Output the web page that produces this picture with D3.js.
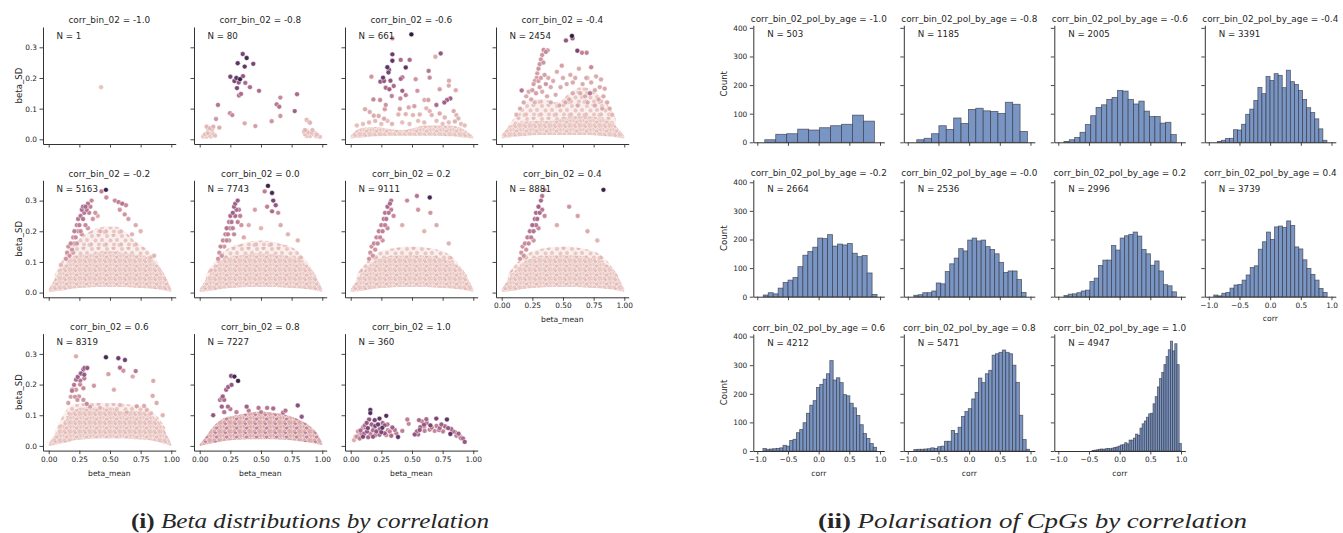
<!DOCTYPE html>
<html><head><meta charset="utf-8">
<script src="https://cdn.jsdelivr.net/npm/d3@7/dist/d3.min.js"></script>
<style>
body{margin:0;background:#fff}
svg{display:block}
text{font-family:"DejaVu Sans",sans-serif;fill:#262626}
</style></head><body>
<svg id="c" width="1343" height="533"></svg>
<script>
// ---------------- DATA ----------------
const scatterBins = ["-1.0","-0.8","-0.6","-0.4","-0.2","0.0","0.2","0.4","0.6","0.8","1.0"];
const scatterN = [1,80,661,2454,5163,7743,9111,8881,8319,7227,360];
const histBins = ["-1.0","-0.8","-0.6","-0.4","-0.2","-0.0","0.2","0.4","0.6","0.8","1.0"];
const histN = [503,1185,2005,3391,2664,2536,2996,3739,4212,5471,4947];
const scatterXTicks = [0,0.25,0.5,0.75,1];
const scatterYTicks = [0,0.1,0.2,0.3];
const histXTicks = [-1,-0.5,0,0.5,1];
const histYTicks = [0,100,200,300,400];

// histogram bins: first edge, bin width, counts
const histStart = [-0.878,-0.854,-0.908,-0.862,-0.902,-0.902,-0.908,-0.919,-0.908,-0.902,-0.45];
const histWidth = [0.1787,0.1203,0.0872,0.0662,0.0806,0.0732,0.0705,0.066,0.0545,0.0555,0.0355];
const histCounts = [
 [9,28,30,46,43,51,58,63,95,74],
 [9,14,30,58,45,85,66,115,119,110,108,101,140,133,38],
 [3,9,17,35,62,93,122,131,150,157,181,179,150,134,144,109,90,90,67,70,27],
 [3,7,13,14,44,43,63,98,116,146,192,170,230,216,240,234,191,252,212,202,181,150,121,104,82,47,7],
 [6,14,10,30,50,58,67,105,145,158,173,205,203,217,177,184,181,186,152,140,144,83,8],
 [5,7,14,14,20,48,45,88,115,135,168,160,198,205,195,198,175,165,150,120,85,90,90,60,15],
 [4,9,10,14,20,23,53,65,109,128,128,179,163,205,213,218,226,212,165,150,110,125,90,42,38,17],
 [6,3,12,15,30,41,43,58,76,102,108,166,192,226,200,244,247,242,265,249,174,167,129,99,78,58,29,15],
 [9,6,7,8,9,11,20,17,37,41,64,75,99,132,160,176,222,233,251,270,316,248,256,239,197,193,167,151,124,92,61,44,26,13],
 [5,6,6,7,8,11,9,15,17,34,34,72,61,83,121,138,148,182,205,255,239,270,282,335,340,345,353,345,340,300,240,125,40,6],
 [2,3,4,6,7,6,8,9,8,10,12,14,17,21,22,29,25,38,38,45,59,55,80,95,105,118,130,132,165,190,224,253,275,302,330,354,384,350,375,302,26]
];

// dense point clouds (too many points to place one by one): [beta_mean, low SD, high SD]
const cloudDense = [
 [],[],
 [[0,0.003,0.012],[0.05,0.004,0.03],[0.1,0.006,0.038],[0.2,0.01,0.04],[0.3,0.012,0.035],[0.4,0.012,0.03],[0.5,0.012,0.035],[0.6,0.012,0.045],[0.7,0.012,0.045],[0.8,0.01,0.045],[0.9,0.007,0.038],[0.95,0.004,0.025],[1.0,0.003,0.01]],
 [[0,0.003,0.015],[0.05,0.005,0.038],[0.1,0.008,0.05],[0.2,0.012,0.058],[0.3,0.014,0.06],[0.4,0.014,0.06],[0.5,0.014,0.068],[0.6,0.014,0.075],[0.7,0.014,0.075],[0.8,0.012,0.07],[0.9,0.008,0.055],[0.95,0.005,0.035],[1.0,0.003,0.012]],
 [[0,0.003,0.012],[0.05,0.004,0.045],[0.1,0.006,0.075],[0.15,0.01,0.1],[0.2,0.013,0.115],[0.3,0.016,0.125],[0.4,0.018,0.13],[0.5,0.018,0.135],[0.6,0.018,0.13],[0.7,0.016,0.125],[0.8,0.014,0.115],[0.9,0.01,0.085],[0.95,0.006,0.055],[1.0,0.003,0.012]],
 [[0,0.003,0.012],[0.05,0.004,0.042],[0.1,0.006,0.07],[0.15,0.01,0.095],[0.2,0.013,0.11],[0.3,0.016,0.12],[0.4,0.018,0.125],[0.5,0.018,0.128],[0.6,0.018,0.125],[0.7,0.016,0.12],[0.8,0.014,0.11],[0.9,0.01,0.08],[0.95,0.006,0.052],[1.0,0.003,0.012]],
 [[0,0.003,0.012],[0.05,0.004,0.04],[0.1,0.006,0.067],[0.15,0.01,0.09],[0.2,0.013,0.105],[0.3,0.016,0.115],[0.4,0.018,0.12],[0.5,0.018,0.122],[0.6,0.018,0.12],[0.7,0.016,0.115],[0.8,0.014,0.105],[0.9,0.01,0.078],[0.95,0.006,0.05],[1.0,0.003,0.012]],
 [[0,0.003,0.012],[0.05,0.004,0.04],[0.1,0.006,0.067],[0.15,0.01,0.09],[0.2,0.013,0.105],[0.3,0.016,0.115],[0.4,0.018,0.12],[0.5,0.018,0.122],[0.6,0.018,0.12],[0.7,0.016,0.115],[0.8,0.014,0.105],[0.9,0.01,0.078],[0.95,0.006,0.05],[1.0,0.003,0.012]],
 [[0,0.0,0.009],[0.05,0.003,0.036],[0.1,0.008,0.063],[0.15,0.012,0.09],[0.2,0.018,0.115],[0.3,0.022,0.125],[0.4,0.024,0.124],[0.5,0.024,0.126],[0.6,0.024,0.112],[0.7,0.022,0.115],[0.8,0.02,0.105],[0.9,0.012,0.079],[0.95,0.006,0.047],[1.0,0.0,0.006]],
 [[0,0.0,0.006],[0.05,0.004,0.03],[0.1,0.008,0.058],[0.15,0.012,0.078],[0.2,0.016,0.092],[0.3,0.02,0.1],[0.4,0.022,0.108],[0.5,0.022,0.112],[0.6,0.022,0.108],[0.7,0.02,0.102],[0.8,0.016,0.088],[0.9,0.01,0.065],[0.95,0.006,0.045],[1.0,0.002,0.01]],
 []
];
// looser clouds above the dense band
const cloudSparse = [
 [],[],[],
 [[0.05,0.02,0.045],[0.15,0.04,0.09],[0.25,0.05,0.13],[0.35,0.05,0.13],[0.45,0.05,0.12],[0.55,0.05,0.15],[0.65,0.05,0.17],[0.75,0.05,0.16],[0.85,0.04,0.12],[0.93,0.03,0.07]],
 [[0.05,0.03,0.06],[0.2,0.05,0.16],[0.3,0.05,0.19],[0.45,0.05,0.215],[0.55,0.05,0.215],[0.7,0.05,0.17],[0.85,0.05,0.12],[0.95,0.03,0.055]],
 [[0.05,0.03,0.06],[0.2,0.05,0.135],[0.35,0.05,0.16],[0.5,0.05,0.17],[0.65,0.05,0.16],[0.8,0.05,0.135],[0.95,0.03,0.055]],
 [[0.05,0.03,0.06],[0.2,0.05,0.125],[0.35,0.05,0.145],[0.5,0.05,0.15],[0.65,0.05,0.145],[0.8,0.05,0.125],[0.95,0.03,0.055]],
 [[0.05,0.03,0.06],[0.2,0.05,0.125],[0.35,0.05,0.145],[0.5,0.05,0.15],[0.65,0.05,0.145],[0.8,0.05,0.125],[0.95,0.03,0.055]],
 [[0.05,0.02,0.045],[0.2,0.05,0.135],[0.35,0.06,0.14],[0.5,0.06,0.14],[0.65,0.06,0.135],[0.8,0.05,0.125],[0.95,0.02,0.06]],
 [],[]
];
const cloudHue = [0,0,0.06,0.06,0.06,0.06,0.06,0.06,0.07,0.2,0];
const cloudHue2 = [0,0,0.1,0.1,0.12,0.12,0.12,0.12,0.12,0.38,0];

// individual points: [beta_mean, beta_SD, hue level 0..1]
const scatterPoints = [
 [[0.427,0.170,0.08]],
 [[0.351,0.278,0.7],[0.383,0.265,0.9],[0.310,0.248,0.8],[0.437,0.246,0.7],[0.367,0.237,0.8],[0.250,0.204,0.7],[0.353,0.206,0.6],[0.299,0.200,0.8],[0.283,0.190,0.7],[0.329,0.196,0.95],[0.318,0.185,0.6],[0.372,0.184,0.5],[0.304,0.167,0.7],[0.410,0.170,0.5],[0.484,0.158,0.5],[0.321,0.143,0.5],[0.337,0.148,0.5],[0.149,0.112,0.45],[0.628,0.114,0.45],[0.658,0.136,0.35],[0.649,0.106,0.45],[0.794,0.147,0.5],[0.775,0.092,0.55],[0.247,0.085,0.35],[0.266,0.079,0.35],[0.658,0.076,0.3],[0.587,0.059,0.3],[0.367,0.052,0.2],[0.454,0.043,0.25],[0.133,0.066,0.3],
  [0.057,0.041,0.15],[0.084,0.036,0.15],[0.111,0.041,0.15],[0.160,0.038,0.2],[0.070,0.028,0.1],[0.098,0.023,0.1],[0.043,0.016,0.1],[0.078,0.014,0.1],[0.111,0.017,0.1],[0.029,0.009,0.08],[0.057,0.009,0.08],[0.090,0.009,0.08],[0.125,0.012,0.1],[0.065,0.020,0.1],[0.10,0.032,0.12],
  [0.873,0.063,0.15],[0.891,0.057,0.15],[0.900,0.054,0.15],[0.859,0.030,0.15],[0.873,0.027,0.12],[0.851,0.025,0.12],[0.886,0.022,0.12],[0.913,0.022,0.12],[0.900,0.011,0.1],[0.927,0.017,0.1],[0.873,0.011,0.1],[0.949,0.011,0.1],[0.967,0.011,0.08],[0.981,0.008,0.08],[0.940,0.020,0.1],[0.86,0.016,0.1],[0.92,0.03,0.12],[0.955,0.015,0.1]],
 [[0.495,0.342,1.0],[0.34,0.329,0.35],[0.34,0.277,0.75],[0.34,0.256,0.8],[0.734,0.280,0.6],[0.691,0.269,0.2],[0.408,0.259,0.5],[0.481,0.259,0.5],[0.299,0.235,0.8],[0.449,0.234,0.8],[0.313,0.226,0.7],[0.308,0.218,0.7],[0.636,0.223,0.45],[0.264,0.201,0.75],[0.169,0.204,0.3],[0.421,0.202,0.5],[0.408,0.197,0.5],[0.242,0.188,0.6],[0.272,0.190,0.6],[0.324,0.191,0.6],[0.530,0.196,0.3],[0.644,0.201,0.35],[0.286,0.168,0.5],[0.315,0.163,0.55],[0.351,0.174,0.5],[0.421,0.158,0.55],[0.544,0.158,0.3],[0.726,0.163,0.25],[0.802,0.191,0.2],[0.80,0.175,0.2],[0.857,0.160,0.2],[0.335,0.141,0.4],[0.449,0.144,0.4],[0.405,0.133,0.35],[0.185,0.130,0.35],[0.240,0.128,0.35],[0.813,0.133,0.55],[0.786,0.128,0.55],[0.764,0.120,0.55],[0.699,0.112,0.5],[0.633,0.128,0.25],[0.601,0.128,0.2],[0.519,0.108,0.25],[0.473,0.104,0.2],[0.400,0.099,0.25],[0.286,0.112,0.3],[0.278,0.098,0.25],[0.117,0.098,0.2],[0.155,0.089,0.2],[0.188,0.077,0.2],[0.228,0.076,0.2],[0.272,0.067,0.2],[0.337,0.050,0.15],[0.389,0.081,0.15],[0.449,0.082,0.15],[0.508,0.079,0.15],[0.563,0.081,0.15],[0.617,0.101,0.15],[0.644,0.092,0.15],[0.661,0.079,0.15],[0.726,0.084,0.2],[0.767,0.071,0.15],[0.840,0.092,0.2],[0.862,0.079,0.15],[0.878,0.068,0.15],[0.85,0.058,0.15],
  [0.05,0.045,0.1],[0.1,0.05,0.1],[0.15,0.055,0.12],[0.2,0.06,0.12],[0.25,0.05,0.1],[0.3,0.06,0.1],[0.42,0.055,0.1],[0.48,0.05,0.1],[0.55,0.06,0.1],[0.6,0.055,0.1],[0.7,0.06,0.1],[0.75,0.05,0.1],[0.8,0.055,0.1],[0.9,0.05,0.1],[0.93,0.045,0.1]],
 [[0.573,0.337,1.0],[0.524,0.322,0.6],[0.578,0.329,0.55],[0.617,0.289,0.7],[0.693,0.282,0.4],[0.655,0.282,0.4],
  [0.342,0.291,0.35],[0.36,0.285,0.35],[0.375,0.29,0.3],[0.33,0.275,0.3],[0.32,0.26,0.3],[0.31,0.245,0.3],[0.3,0.23,0.3],[0.34,0.25,0.3],[0.29,0.215,0.25],[0.285,0.2,0.25],[0.27,0.19,0.25],[0.26,0.18,0.25],[0.3,0.19,0.25],[0.32,0.2,0.25],[0.35,0.21,0.25],[0.25,0.16,0.25],[0.22,0.155,0.2],[0.163,0.159,0.45],[0.2,0.14,0.2],[0.18,0.12,0.2],[0.24,0.13,0.2],[0.28,0.15,0.25],[0.31,0.17,0.25],[0.33,0.155,0.2],[0.36,0.18,0.3],[0.38,0.2,0.2],[0.4,0.17,0.2],[0.42,0.19,0.2],[0.37,0.14,0.2],[0.4,0.12,0.2],[0.15,0.1,0.2],[0.12,0.08,0.15],[0.27,0.12,0.15],[0.44,0.145,0.2],
  [0.48,0.17,0.2],[0.5,0.2,0.2],[0.53,0.18,0.2],[0.56,0.21,0.2],[0.6,0.2,0.2],[0.63,0.23,0.2],[0.66,0.18,0.2],[0.7,0.2,0.2],[0.73,0.185,0.2],[0.76,0.16,0.2],[0.8,0.17,0.2],[0.79,0.13,0.2],[0.83,0.14,0.2],[0.86,0.12,0.2],[0.88,0.1,0.2],[0.72,0.15,0.45],[0.68,0.14,0.2],[0.64,0.15,0.2],[0.58,0.15,0.2],[0.55,0.13,0.2],[0.52,0.12,0.2],[0.47,0.11,0.2],[0.62,0.11,0.2],[0.7,0.12,0.2],[0.76,0.11,0.2],[0.82,0.1,0.2],[0.9,0.08,0.15],[0.73,0.235,0.35],[0.69,0.2,0.2],[0.77,0.205,0.2],[0.81,0.195,0.2],[0.84,0.165,0.2],[0.58,0.185,0.2],[0.45,0.22,0.2],[0.49,0.24,0.25]],
 [[0.14,0.11,0.3],[0.15,0.13,0.3],[0.17,0.12,0.3],[0.16,0.15,0.3],[0.18,0.16,0.35],[0.19,0.14,0.3],[0.2,0.18,0.35],[0.21,0.16,0.3],[0.21,0.2,0.4],[0.22,0.18,0.35],[0.23,0.22,0.4],[0.24,0.2,0.35],[0.24,0.24,0.45],[0.25,0.22,0.4],[0.26,0.25,0.45],[0.26,0.2,0.35],[0.27,0.27,0.5],[0.28,0.24,0.45],[0.28,0.28,0.5],[0.29,0.26,0.45],[0.3,0.28,0.5],[0.3,0.22,0.35],[0.31,0.27,0.45],[0.32,0.29,0.45],[0.33,0.26,0.4],[0.34,0.28,0.4],[0.35,0.3,0.35],[0.36,0.24,0.3],[0.38,0.26,0.3],[0.2,0.13,0.25],[0.23,0.16,0.3],[0.27,0.19,0.3],[0.32,0.21,0.3],
  [0.467,0.335,0.95],[0.43,0.33,0.4],[0.47,0.31,0.35],[0.54,0.30,0.35],[0.57,0.295,0.4],[0.6,0.29,0.45],[0.63,0.285,0.35],[0.58,0.27,0.3],[0.62,0.255,0.3],[0.65,0.24,0.25],[0.4,0.25,0.2],[0.71,0.22,0.2],[0.75,0.2,0.15],[0.68,0.19,0.15],[0.42,0.2,0.15],[0.1,0.09,0.15],[0.86,0.12,0.15]],
 [[0.15,0.11,0.3],[0.16,0.13,0.3],[0.18,0.12,0.3],[0.17,0.15,0.35],[0.19,0.17,0.35],[0.2,0.15,0.3],[0.21,0.19,0.4],[0.22,0.17,0.35],[0.22,0.21,0.45],[0.23,0.19,0.4],[0.24,0.23,0.45],[0.25,0.21,0.4],[0.25,0.25,0.5],[0.26,0.23,0.45],[0.27,0.26,0.55],[0.27,0.21,0.4],[0.28,0.28,0.55],[0.29,0.25,0.5],[0.29,0.29,0.55],[0.3,0.27,0.5],[0.31,0.3,0.55],[0.31,0.23,0.4],[0.32,0.27,0.45],[0.33,0.25,0.4],[0.24,0.17,0.3],[0.28,0.19,0.35],[0.34,0.22,0.3],
  [0.557,0.348,0.95],[0.59,0.325,0.9],[0.53,0.33,0.4],[0.6,0.3,0.7],[0.62,0.285,0.6],[0.59,0.265,0.5],[0.55,0.28,0.4],[0.64,0.26,0.35],[0.45,0.27,0.25],[0.4,0.22,0.2],[0.66,0.22,0.2],[0.72,0.19,0.15],[0.5,0.21,0.15],[0.8,0.17,0.15],[0.36,0.18,0.2]],
 [[0.15,0.11,0.3],[0.16,0.13,0.3],[0.18,0.12,0.3],[0.17,0.15,0.3],[0.19,0.16,0.35],[0.2,0.14,0.3],[0.21,0.18,0.35],[0.22,0.16,0.35],[0.23,0.2,0.4],[0.24,0.18,0.35],[0.25,0.22,0.4],[0.26,0.2,0.4],[0.27,0.24,0.45],[0.28,0.22,0.4],[0.28,0.26,0.45],[0.29,0.24,0.45],[0.3,0.28,0.5],[0.31,0.26,0.45],[0.32,0.29,0.5],[0.33,0.3,0.45],[0.33,0.27,0.4],[0.3,0.21,0.35],[0.26,0.17,0.3],[0.35,0.25,0.35],
  [0.645,0.31,0.9],[0.54,0.315,0.45],[0.46,0.3,0.35],[0.55,0.27,0.3],[0.65,0.26,0.3],[0.7,0.22,0.2],[0.42,0.22,0.2],[0.6,0.2,0.15],[0.8,0.16,0.15]],
 [[0.15,0.11,0.3],[0.16,0.13,0.3],[0.18,0.12,0.3],[0.17,0.15,0.3],[0.19,0.16,0.35],[0.2,0.14,0.3],[0.21,0.18,0.4],[0.22,0.16,0.35],[0.23,0.2,0.45],[0.24,0.18,0.4],[0.25,0.22,0.5],[0.26,0.2,0.45],[0.27,0.24,0.5],[0.28,0.22,0.45],[0.28,0.26,0.5],[0.29,0.24,0.5],[0.3,0.28,0.55],[0.31,0.26,0.5],[0.32,0.3,0.5],[0.33,0.315,0.45],[0.33,0.27,0.45],[0.3,0.21,0.35],[0.26,0.17,0.3],[0.35,0.25,0.35],
  [0.83,0.335,0.95],[0.35,0.335,0.35],[0.55,0.28,0.3],[0.62,0.25,0.25],[0.7,0.2,0.2],[0.45,0.22,0.2],[0.78,0.17,0.15]],
 [[0.467,0.289,0.9],[0.568,0.286,0.75],[0.622,0.280,0.75],[0.581,0.255,0.5],[0.609,0.245,0.3],[0.710,0.244,0.45],[0.487,0.234,0.25],[0.685,0.226,0.2],[0.853,0.212,0.2],[0.848,0.163,0.2],[0.532,0.183,0.2],[0.369,0.196,0.3],[0.223,0.292,0.2],
  [0.193,0.183,0.45],[0.207,0.199,0.45],[0.223,0.216,0.5],[0.237,0.225,0.55],[0.261,0.236,0.6],[0.283,0.249,0.6],[0.293,0.254,0.6],[0.315,0.254,0.6],[0.264,0.236,0.6],[0.29,0.232,0.6],[0.257,0.213,0.45],[0.29,0.22,0.4],[0.19,0.18,0.45],[0.223,0.183,0.3],[0.256,0.2,0.35],[0.283,0.188,0.35],[0.247,0.161,0.3],[0.283,0.150,0.3],[0.31,0.137,0.35],[0.16,0.14,0.25],[0.18,0.16,0.25],[0.215,0.16,0.3],[0.234,0.15,0.3],[0.337,0.128,0.25],[0.419,0.124,0.15],[0.582,0.133,0.15],[0.636,0.109,0.15],[0.718,0.129,0.25],[0.778,0.13,0.2],[0.8,0.117,0.15],[0.88,0.14,0.2],[0.93,0.1,0.15]],
 [[0.166,0.15,0.5],[0.188,0.161,0.55],[0.18,0.155,0.5],[0.2,0.15,0.5],[0.216,0.183,0.55],[0.232,0.192,0.55],[0.256,0.228,0.65],[0.283,0.226,0.9],[0.313,0.212,0.95],[0.26,0.199,0.6],[0.18,0.128,0.55],[0.23,0.128,0.5],[0.25,0.12,0.45],[0.383,0.128,0.55],[0.48,0.124,0.45],[0.55,0.124,0.45],[0.6,0.122,0.5],[0.8,0.132,0.65],[0.832,0.095,0.6],[0.68,0.108,0.45],[0.5,0.11,0.4],[0.11,0.1,0.6],[0.2,0.11,0.45],[0.3,0.11,0.4],[0.4,0.115,0.4],[0.7,0.115,0.45]],
 [[0.16,0.117,0.85],[0.16,0.107,0.85],[0.29,0.098,0.85],[0.235,0.089,0.8],[0.196,0.084,0.7],[0.15,0.086,0.6],[0.115,0.067,0.5],[0.462,0.086,0.4],[0.473,0.072,0.35],[0.557,0.084,0.5],[0.617,0.087,0.5],[0.698,0.089,0.7],[0.785,0.086,0.8],[0.65,0.067,0.7],[0.598,0.069,0.6],[0.568,0.061,0.55],[0.522,0.037,0.6],[0.55,0.037,0.5],[0.386,0.029,0.8],[0.421,0.049,0.4],[0.372,0.041,0.4],[0.331,0.033,0.5],[0.304,0.051,0.4],[0.277,0.067,0.6],[0.258,0.059,0.8],[0.223,0.07,0.75],[0.209,0.047,0.6],[0.182,0.051,0.5],[0.133,0.047,0.6],[0.1,0.059,0.4],[0.087,0.041,0.4],[0.06,0.047,0.3],[0.041,0.03,0.3],[0.027,0.019,0.2],[0.073,0.024,0.4],[0.1,0.03,0.7],[0.142,0.028,0.5],[0.182,0.03,0.6],[0.235,0.036,0.5],[0.277,0.041,0.6],[0.318,0.047,0.4],[0.726,0.058,0.5],[0.767,0.064,0.5],[0.795,0.058,0.6],[0.813,0.039,0.8],[0.835,0.047,0.5],[0.862,0.033,0.4],[0.894,0.03,0.4],[0.916,0.024,0.5],[0.93,0.013,0.6],[0.753,0.047,0.4],[0.685,0.049,0.35],[0.644,0.053,0.4],[0.603,0.049,0.4],[0.563,0.052,0.6],[0.54,0.047,0.5],
  [0.05,0.03,0.35],[0.08,0.05,0.5],[0.12,0.06,0.45],[0.13,0.075,0.6],[0.17,0.07,0.55],[0.2,0.065,0.7],[0.24,0.055,0.6],[0.26,0.075,0.5],[0.3,0.07,0.45],[0.34,0.06,0.55],[0.36,0.052,0.45],[0.11,0.04,0.55],[0.16,0.04,0.4],[0.2,0.035,0.45],[0.25,0.045,0.7],[0.29,0.035,0.35],[0.14,0.058,0.7],[0.19,0.06,0.3],[0.22,0.05,0.35],[0.07,0.035,0.25],[0.6,0.062,0.35],[0.66,0.06,0.45],[0.7,0.065,0.4],[0.74,0.07,0.55],[0.78,0.06,0.45],[0.82,0.055,0.5],[0.85,0.045,0.45],[0.88,0.04,0.55],[0.9,0.025,0.45],[0.72,0.052,0.45],[0.62,0.075,0.45],[0.58,0.08,0.4]]
];

// ---------------- LAYOUT ----------------
const svg = d3.select("#c");
const defs = svg.append("defs");
const color = d3.scaleSequential(d3.interpolateRgbBasis(["#efd3cc","#dcaaa9","#c27e95","#955683","#5d3466","#2d1a3e"])).domain([0,1]);

const SC = {left:[43,194,345,496], top:[27,180.3,333.6], w:132.7, h:117};
const HI = {left:[753.3,903.8,1054.3,1204.8], top:[25.3,179.7,334], w:131, h:117};

// texture tiles imitating overlapping white-edged markers
const denseTile = [[1,1,0],[5.5,0.3,1],[8.8,3,0],[3,4,0],[6.6,5.6,1],[1,7.4,0],[4.4,8.3,0],[9.2,8,0],[0,4,0],[10,0.5,0]];
const sparseTile = [[2,2,0],[8.5,1,1],[12,6,0],[5.5,6.5,0],[1,10.5,1],[9,10.5,0],[14.5,11,0]];
function makePattern(id, c1, c2, dense){
  const w = dense?10:15, h = dense?9:13;
  const p = defs.append("pattern").attr("id",id).attr("patternUnits","userSpaceOnUse").attr("width",w).attr("height",h);
  if(dense) p.append("rect").attr("width",w).attr("height",h).attr("fill",c1);
  (dense?denseTile:sparseTile).forEach(([cx,cy,k])=>
    p.append("circle").attr("cx",cx).attr("cy",cy).attr("r",2.4).attr("fill",k?c2:c1).attr("stroke","#fff").attr("stroke-width",0.45));
}

function drawAxes(g, x, y, xt, yt, xfmt, yfmt, showX, showY){
  const ax = g.append("g").attr("transform",`translate(0,${y.range()[0]})`)
    .call(d3.axisBottom(x).tickValues(xt).tickSize(3.5).tickSizeOuter(0).tickPadding(2.2).tickFormat(showX?xfmt:""));
  const ay = g.append("g").attr("transform",`translate(${x.range()[0]},0)`)
    .call(d3.axisLeft(y).tickValues(yt).tickSize(3.5).tickSizeOuter(0).tickPadding(2.5).tickFormat(showY?yfmt:""));
  [ax,ay].forEach(a=>{
    a.select(".domain").attr("stroke","#333").attr("stroke-width",1);
    a.selectAll(".tick line").attr("stroke","#333").attr("stroke-width",0.9);
    a.selectAll(".tick text").attr("fill","#262626").style("font-family","DejaVu Sans").style("font-size","7.4px");
  });
}

// ---------------- SCATTER GRID ----------------
scatterBins.forEach((b,k)=>{
  const r = Math.floor(k/4), c = k%4;
  const L = SC.left[c], T = SC.top[r];
  const x = d3.scaleLinear().domain([-0.0465,1.036]).range([L, L+SC.w]);
  const y = d3.scaleLinear().domain([-0.0153,0.3662]).range([T+SC.h, T]);
  const g = svg.append("g");
  const area = d3.area().x(d=>x(d[0])).y0(d=>y(d[1])).y1(d=>y(d[2])).curve(d3.curveMonotoneX);
  if(cloudSparse[k].length){
    const id = "ps"+k; makePattern(id, color(cloudHue[k]), color(cloudHue2[k]), false);
    g.append("path").datum(cloudSparse[k]).attr("d",area).attr("fill",color(cloudHue[k])).attr("fill-opacity",0.28);
    g.append("path").datum(cloudSparse[k]).attr("d",area).attr("fill",`url(#${id})`);
  }
  if(cloudDense[k].length){
    const id = "pd"+k; makePattern(id, color(cloudHue[k]), color(cloudHue2[k]), true);
    g.append("path").datum(cloudDense[k]).attr("d",area).attr("fill",`url(#${id})`);
  }
  const pts = scatterPoints[k].slice().sort((a,b)=>a[2]-b[2]);
  g.selectAll("circle.pt").data(pts).join("circle").attr("class","pt")
    .attr("cx",d=>x(d[0])).attr("cy",d=>y(d[1])).attr("r",2.45)
    .attr("fill",d=>color(d[2])).attr("stroke","#fff").attr("stroke-width",0.45);
  const showX = (r===2) || (r===1 && c===3);
  drawAxes(g, x, y, scatterXTicks, scatterYTicks, d3.format(".2f"), d3.format(".1f"), showX, c===0);
  g.append("text").attr("x",L+SC.w/2).attr("y",T-3.6).attr("text-anchor","middle").style("font-size","8.9px").text(`corr_bin_02 = ${b}`);
  g.append("text").attr("x",L+13.5).attr("y",T+11.5).style("font-size","8.7px").text(`N = ${scatterN[k]}`);
  if(c===0) g.append("text").attr("transform",`translate(21.5,${T+SC.h/2}) rotate(-90)`).attr("text-anchor","middle").style("font-size","8.6px").text("beta_SD");
  if(showX) g.append("text").attr("x",L+SC.w/2).attr("y",T+SC.h+25).attr("text-anchor","middle").style("font-size","7.6px").text("beta_mean");
});

// ---------------- HISTOGRAM GRID ----------------
histBins.forEach((b,k)=>{
  const r = Math.floor(k/4), c = k%4;
  const L = HI.left[c], T = HI.top[r];
  const x = d3.scaleLinear().domain([-1.065,1.07]).range([L, L+HI.w]);
  const y = d3.scaleLinear().domain([0,409]).range([T+HI.h, T]);
  const g = svg.append("g");
  const bars = histCounts[k].map((v,i)=>({x0:histStart[k]+i*histWidth[k], x1:histStart[k]+(i+1)*histWidth[k], v}));
  g.selectAll("rect").data(bars).join("rect")
    .attr("x",d=>x(d.x0)).attr("width",d=>x(d.x1)-x(d.x0))
    .attr("y",d=>y(d.v)).attr("height",d=>y(0)-y(d.v))
    .attr("fill","rgb(121,149,196)").attr("stroke","rgba(50,50,60,0.72)").attr("stroke-width",0.8);
  const showX = (r===2) || (r===1 && c===3);
  drawAxes(g, x, y, histXTicks, histYTicks, d3.format(".1f"), d3.format("d"), showX, c===0);
  g.append("text").attr("x",L+HI.w/2).attr("y",T-3.3).attr("text-anchor","middle").style("font-size","8.9px").text(`corr_bin_02_pol_by_age = ${b}`);
  g.append("text").attr("x",L+14).attr("y",T+12).style("font-size","8.7px").text(`N = ${histN[k]}`);
  if(c===0) g.append("text").attr("transform",`translate(726.5,${T+HI.h/2}) rotate(-90)`).attr("text-anchor","middle").style("font-size","8.6px").text("Count");
  if(showX) g.append("text").attr("x",L+HI.w/2).attr("y",T+HI.h+24.5).attr("text-anchor","middle").style("font-size","7.6px").text("corr");
});

// ---------------- CAPTIONS ----------------
function caption(cx, label, rest, len){
  const t = svg.append("text").attr("x",cx).attr("y",528).attr("text-anchor","middle")
    .style("font-family","'Liberation Serif',serif").style("font-size","20px").attr("fill","#000")
    .attr("textLength",len).attr("lengthAdjust","spacingAndGlyphs");
  t.append("tspan").style("font-weight","bold").text(label);
  t.append("tspan").style("font-style","italic").text(" "+rest);
}
caption(310, "(i)", "Beta distributions by correlation", 358);
caption(1032.5, "(ii)", "Polarisation of CpGs by correlation", 429);
</script></body></html>
